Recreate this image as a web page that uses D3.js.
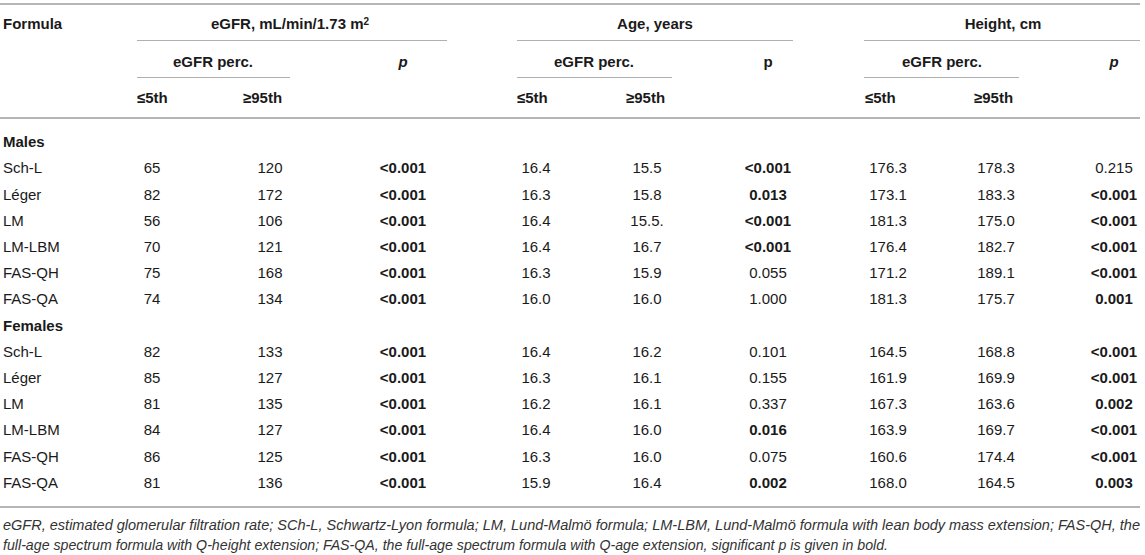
<!DOCTYPE html>
<html>
<head>
<meta charset="utf-8">
<script src="https://cdn.jsdelivr.net/npm/d3@7"></script>
<style>
  body { margin: 0; background: #fff; }
  svg text { font-family: "Liberation Sans", Arial, sans-serif; fill: #1a1a1a; }
</style>
</head>
<body>
<div id="chart"></div>
<script>
// table content
const groups = ['Males', 'Females']
const formulas = ['Sch-L', 'Léger', 'LM', 'LM-LBM', 'FAS-QH', 'FAS-QA']

const egfrLow = ['65', '82', '56', '70', '75', '74', '82', '85', '81', '84', '86', '81']
const egfrHigh = ['120', '172', '106', '121', '168', '134', '133', '127', '135', '127', '125', '136']
const egfrP = ['<0.001', '<0.001', '<0.001', '<0.001', '<0.001', '<0.001', '<0.001', '<0.001', '<0.001', '<0.001', '<0.001', '<0.001']

const ageLow = ['16.4', '16.3', '16.4', '16.4', '16.3', '16.0', '16.4', '16.3', '16.2', '16.4', '16.3', '15.9']
const ageHigh = ['15.5', '15.8', '15.5.', '16.7', '15.9', '16.0', '16.2', '16.1', '16.1', '16.0', '16.0', '16.4']
const ageP = ['<0.001', '0.013', '<0.001', '<0.001', '0.055', '1.000', '0.101', '0.155', '0.337', '0.016', '0.075', '0.002']

const heightLow = ['176.3', '173.1', '181.3', '176.4', '171.2', '181.3', '164.5', '161.9', '167.3', '163.9', '160.6', '168.0']
const heightHigh = ['178.3', '183.3', '175.0', '182.7', '189.1', '175.7', '168.8', '169.9', '163.6', '169.7', '174.4', '164.5']
const heightP = ['0.215', '<0.001', '<0.001', '<0.001', '<0.001', '0.001', '<0.001', '<0.001', '0.002', '<0.001', '<0.001', '0.003']

const blocks = ['eGFR, mL/min/1.73 m', 'Age, years', 'Height, cm']
const subHeads = ['≤5th', '≥95th']
const footnote = [
  'eGFR, estimated glomerular filtration rate; SCh-L, Schwartz-Lyon formula; LM, Lund-Malmö formula; LM-LBM, Lund-Malmö formula with lean body mass extension; FAS-QH, the',
  'full-age spectrum formula with Q-height extension; FAS-QA, the full-age spectrum formula with Q-age extension, significant p is given in bold.'
]

const width = 1145
const height = 555

const svg = d3.select('#chart').append('svg')
  .attr('width', width)
  .attr('height', height)

// row positions: group title rows + formula rows, 14 lines in all
const y = d3.scaleLinear().domain([0, 13]).range([142, 482.6])

// column layout per block
const blockCols = [
  {left: 137, right: 447, sub: 290, low: 152, high: 270, hLow: 137, hHigh: 243, perc: 213, p: 403, title: 290, pItalic: true},
  {left: 517, right: 793, sub: 672, low: 536, high: 647, hLow: 517, hHigh: 626, perc: 594, p: 768, title: 655, pItalic: false},
  {left: 864, right: 1140, sub: 1019, low: 888, high: 996, hLow: 865, hHigh: 974, perc: 942, p: 1114, title: 1003, pItalic: true}
]
const blockData = [
  [egfrLow, egfrHigh, egfrP],
  [ageLow, ageHigh, ageP],
  [heightLow, heightHigh, heightP]
]

const isSig = v => v.startsWith('<') || +v < 0.05

// rules
const rule = (x1, x2, yy, w, c) => svg.append('line')
  .attr('x1', x1).attr('x2', x2).attr('y1', yy).attr('y2', yy)
  .attr('stroke', c).attr('stroke-width', w)

rule(0, 1140, 4, 2, '#b5b5b5')
rule(0, 1140, 118, 2, '#b5b5b5')
rule(0, 1140, 507, 2, '#b5b5b5')
blockCols.forEach(b => {
  rule(b.left, b.right, 40.5, 1, '#b0b0b0')
  rule(b.left, b.sub, 77.5, 1, '#b0b0b0')
})

// header
const head = svg.append('g').style('font-weight', 'bold').style('font-size', '15px')

head.append('text').attr('x', 3).attr('y', 24).attr('dy', '0.35em').text('Formula')

blockCols.forEach((b, i) => {
  const t = head.append('text')
    .attr('x', b.title).attr('y', 24).attr('dy', '0.35em')
    .attr('text-anchor', 'middle')
    .text(blocks[i])
  if (i === 0) {
    t.append('tspan').attr('dy', '-0.4em').style('font-size', '10px').text('2')
  }
  head.append('text')
    .attr('x', b.perc).attr('y', 62).attr('dy', '0.35em')
    .attr('text-anchor', 'middle')
    .text('eGFR perc.')
  head.append('text')
    .attr('x', b.p).attr('y', 62).attr('dy', '0.35em')
    .attr('text-anchor', 'middle')
    .style('font-style', b.pItalic ? 'italic' : 'normal')
    .text('p')
  head.append('text').attr('x', b.hLow).attr('y', 98).attr('dy', '0.35em').text(subHeads[0])
  head.append('text').attr('x', b.hHigh).attr('y', 98).attr('dy', '0.35em').text(subHeads[1])
})

// body
const body = svg.append('g').style('font-size', '15px')

groups.forEach((g, gi) => {
  const base = gi * 7
  body.append('text')
    .attr('x', 3).attr('y', y(base)).attr('dy', '0.35em')
    .style('font-weight', 'bold')
    .text(g)

  formulas.forEach((f, fi) => {
    const idx = gi * formulas.length + fi
    const yy = y(base + 1 + fi)
    body.append('text').attr('x', 3).attr('y', yy).attr('dy', '0.35em').text(f)

    blockCols.forEach((b, bi) => {
      const [lo, hi, p] = blockData[bi]
      body.append('text').attr('x', b.low).attr('y', yy).attr('dy', '0.35em')
        .attr('text-anchor', 'middle').text(lo[idx])
      body.append('text').attr('x', b.high).attr('y', yy).attr('dy', '0.35em')
        .attr('text-anchor', 'middle').text(hi[idx])
      body.append('text').attr('x', b.p).attr('y', yy).attr('dy', '0.35em')
        .attr('text-anchor', 'middle')
        .style('font-weight', isSig(p[idx]) ? 'bold' : 'normal')
        .text(p[idx])
    })
  })
})

// footnote
svg.append('g').selectAll('text')
  .data(footnote)
  .enter().append('text')
  .attr('x', 3)
  .attr('y', (d, i) => 525 + i * 20)
  .attr('dy', '0.35em')
  .attr('textLength', (d, i) => i === 0 ? 1137 : 885)
  .attr('lengthAdjust', 'spacingAndGlyphs')
  .style('font-style', 'italic')
  .style('font-size', '14px')
  .style('fill', '#333')
  .text(d => d)
</script>
</body>
</html>
